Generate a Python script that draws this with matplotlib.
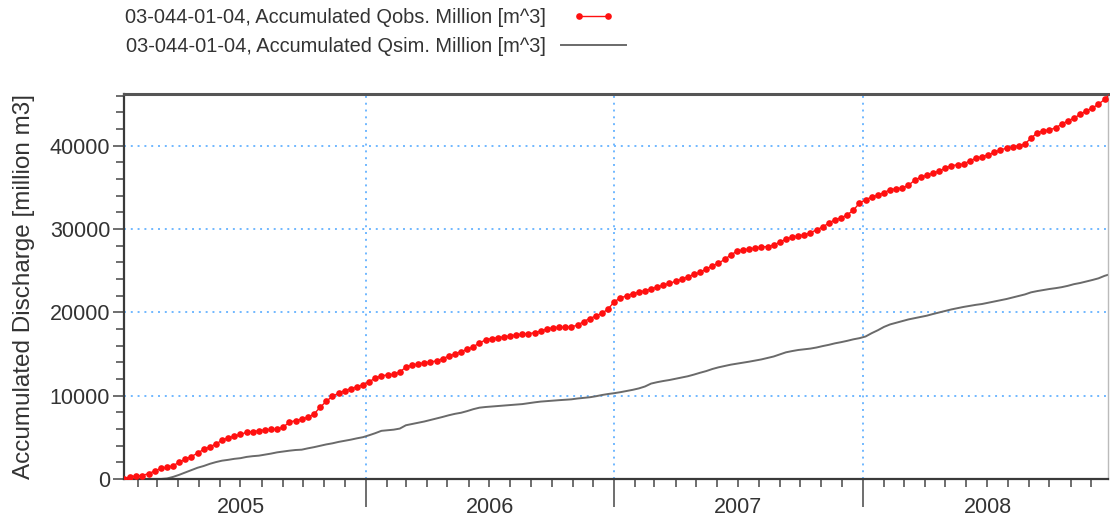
import matplotlib
matplotlib.use("Agg")
import matplotlib.pyplot as plt
import matplotlib.dates as mdates
import matplotlib.transforms as mtransforms
from matplotlib.legend_handler import HandlerLine2D
import pandas as pd

plt.rcParams['font.family'] = ['Liberation Sans', 'DejaVu Sans']

# dados (passo de 9 dias a partir de 11/01/2005)
start_date = "2005-01-11"
step = "9D"

qobs = [0, 300, 350, 420, 650, 950, 1280, 1400, 1600, 2000,
        2380, 2700, 3100, 3560, 3860, 4200, 4650, 4950, 5120, 5350,
        5600, 5700, 5810, 5890, 5960, 5970, 6250, 6820, 7020, 7200,
        7400, 7800, 8600, 9320, 9920, 10300, 10620, 10830, 11080, 11300,
        11700, 12080, 12400, 12480, 12560, 12850, 13420, 13660, 13800, 13950,
        14040, 14180, 14450, 14750, 15000, 15300, 15550, 15880, 16320, 16700,
        16860, 16950, 17050, 17160, 17300, 17380, 17440, 17560, 17760, 18000,
        18160, 18200, 18200, 18280, 18450, 18900, 19260, 19560, 19900, 20400,
        21300, 21700, 22000, 22250, 22420, 22580, 22820, 23060, 23250, 23480,
        23720, 23980, 24280, 24550, 24800, 25200, 25580, 25900, 26350, 26880,
        27330, 27500, 27600, 27720, 27830, 27900, 28080, 28420, 28780, 29020,
        29170, 29300, 29560, 29890, 30250, 30700, 31120, 31330, 31700, 32250,
        33100, 33530, 33820, 34050, 34380, 34700, 34840, 34900, 35250, 35850,
        36220, 36440, 36700, 36960, 37300, 37600, 37710, 37790, 38180, 38480,
        38680, 38880, 39200, 39490, 39700, 39830, 39970, 40220, 40900, 41540,
        41780, 41900, 42130, 42580, 42980, 43300, 43750, 44180, 44520, 44980,
        45550, 46300]

qsim = [0, 0, 0, 0, 0, 0, 0, 60, 250, 500,
        780, 1050, 1350, 1560, 1820, 2030, 2200, 2300, 2420, 2500,
        2650, 2740, 2800, 2920, 3050, 3200, 3300, 3400, 3480, 3520,
        3680, 3820, 3980, 4150, 4280, 4450, 4580, 4720, 4880, 5020,
        5250, 5500, 5780, 5850, 5920, 6050, 6450, 6600, 6740, 6900,
        7080, 7250, 7450, 7650, 7820, 7950, 8150, 8380, 8560, 8640,
        8700, 8760, 8820, 8870, 8930, 8990, 9100, 9200, 9290, 9350,
        9410, 9460, 9510, 9560, 9660, 9740, 9810, 9930, 10080, 10200,
        10300, 10420, 10560, 10700, 10870, 11100, 11450, 11620, 11760, 11880,
        12030, 12180, 12330, 12530, 12750, 12950, 13200, 13400, 13560, 13720,
        13840, 13950, 14080, 14220, 14350, 14520, 14700, 14950, 15200, 15350,
        15480, 15560, 15650, 15780, 15950, 16100, 16280, 16420, 16580, 16760,
        16900, 17100, 17500, 17850, 18250, 18550, 18750, 18950, 19150, 19300,
        19450, 19600, 19800, 19980, 20150, 20350, 20500, 20650, 20780, 20900,
        21000, 21150, 21300, 21450, 21600, 21780, 21950, 22150, 22400, 22550,
        22680, 22800, 22900, 23020, 23180, 23380, 23520, 23700, 23880, 24080,
        24380, 24600]

years = [2005, 2006, 2007, 2008]
label_obs = "03-044-01-04, Accumulated Qobs. Million [m^3]"
label_sim = "03-044-01-04, Accumulated Qsim. Million [m^3]"

dates = pd.date_range(start_date, periods=len(qobs), freq=step)

fig = plt.figure(figsize=(11.1, 5.2), dpi=100)
ax = fig.add_axes([124 / 1110, 1 - 479 / 520, 984 / 1110, 385 / 520])

grid_color = '#70b8ff'
axis_color = '#3a3a3a'

ax.plot(dates, qobs, color='#ff1010', lw=1.0, marker='o', markersize=4.8,
        markeredgewidth=0, label=label_obs, zorder=3)
ax.plot(dates, qsim, color='#6a6a6a', lw=1.4, label=label_sim, zorder=2)

ax.set_xlim(pd.Timestamp("2005-01-11"), pd.Timestamp("2008-12-26"))
ax.set_ylim(0, 46200)

# eixo x: anos (traço longo), meses (traço curto), rótulo no meio do ano
ax.xaxis.set_major_locator(mdates.YearLocator())
ax.xaxis.set_minor_locator(mdates.MonthLocator())
ax.xaxis.set_major_formatter(plt.NullFormatter())
ax.tick_params(axis='x', which='major', length=20, width=1.2, color='#555555')
ax.tick_params(axis='x', which='minor', length=6, width=1.2, color='#555555')

trans = mtransforms.blended_transform_factory(ax.transData, ax.transAxes)
for yr in years:
    mid = pd.Timestamp(f"{yr}-07-02")
    ax.text(mid, -0.073, str(yr), transform=trans, ha='center', va='center',
            fontsize=15.5, color='#333333')

# eixo y
ax.set_yticks([0, 10000, 20000, 30000, 40000])
ax.set_yticks(range(0, 46001, 2000), minor=True)
ax.tick_params(axis='y', which='major', length=8, width=1.2, color='#555555',
               labelsize=15.5, labelcolor='#333333', pad=2)
ax.tick_params(axis='y', which='minor', length=6, width=1.2, color='#555555')
ax.set_ylabel("Accumulated Discharge [million m3]", fontsize=17.5, color='#333333')
ax.yaxis.set_label_coords(-0.090, 0.5)

ax.grid(True, which='major', axis='both', color=grid_color, linestyle=(0, (1, 2.5)),
        linewidth=1.4)

for side in ['left', 'bottom']:
    ax.spines[side].set_color(axis_color)
    ax.spines[side].set_linewidth(1.6)
ax.spines['top'].set_color('#555555')
ax.spines['top'].set_linewidth(2.2)
ax.spines['right'].set_color('#bbbbbb')
ax.spines['right'].set_linewidth(1.0)

handles, labels = ax.get_legend_handles_labels()
fig.legend(handles, labels, loc='upper left', bbox_to_anchor=(125 / 1110, 1 - 8 / 520),
           frameon=False, markerfirst=False, fontsize=14.4, handlelength=3.25,
           handletextpad=0.75, labelspacing=0.5, borderpad=0, borderaxespad=0,
           handler_map={handles[0]: HandlerLine2D(numpoints=2, marker_pad=0.9)},
           labelcolor='#333333')

fig.savefig("out.png", dpi=100)
